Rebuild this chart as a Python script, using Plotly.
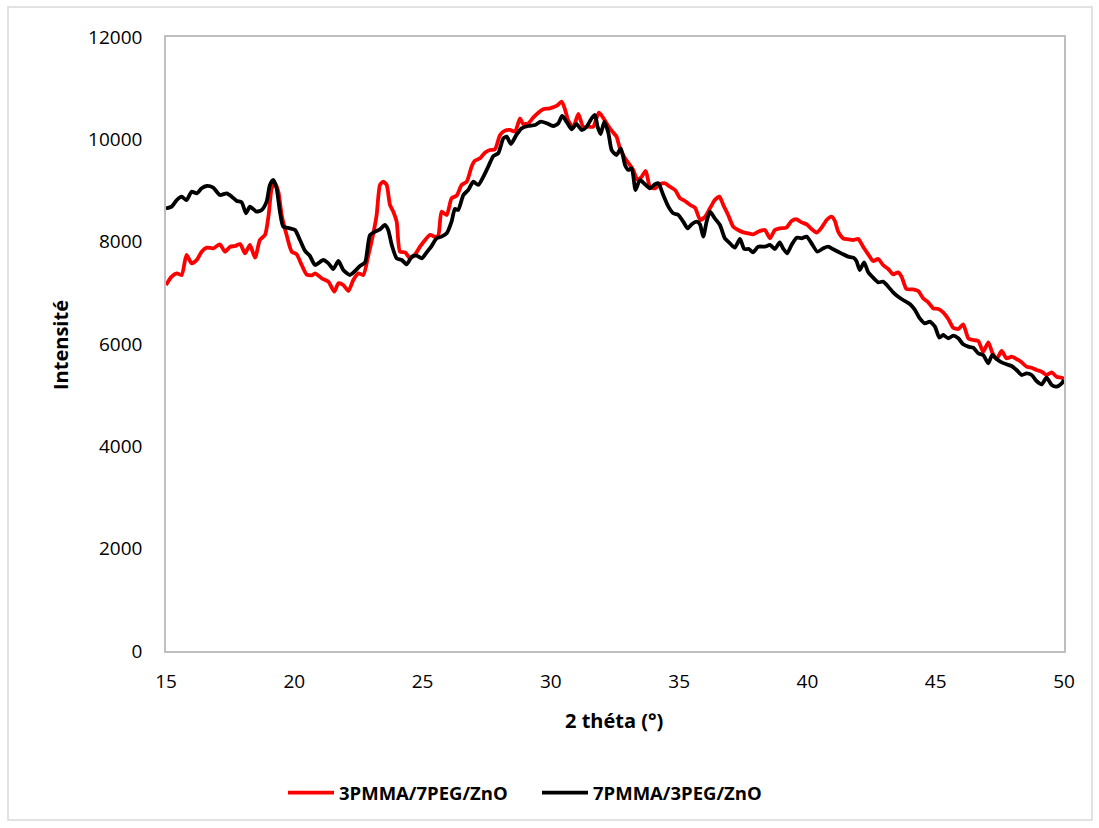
import plotly.graph_objects as go

# ---- data ----
x_red = [15.0, 15.22, 15.42, 15.61, 15.8, 16.0, 16.2, 16.39, 16.59, 16.84, 17.1, 17.3, 17.5, 17.69, 17.89,
         18.08, 18.27, 18.47, 18.66, 18.86, 19.0, 19.12, 19.25, 19.38, 19.51, 19.7, 19.9, 20.09, 20.29, 20.48,
         20.68, 20.81, 21.07, 21.33, 21.56, 21.72, 21.91, 22.11, 22.3, 22.5, 22.69, 22.89, 23.08, 23.21, 23.34,
         23.47, 23.6, 23.73, 23.86, 23.99, 24.12, 24.32, 24.51, 24.71, 24.9, 25.1, 25.29, 25.49, 25.61, 25.74,
         25.94, 26.13, 26.33, 26.52, 26.72, 26.91, 27.04, 27.24, 27.43, 27.63, 27.82, 28.02, 28.21, 28.41, 28.6,
         28.8, 28.92, 29.12, 29.32, 29.51, 29.7, 29.96, 30.22, 30.42, 30.55, 30.68, 30.87, 31.07, 31.26, 31.46,
         31.65, 31.87, 32.04, 32.24, 32.4, 32.56, 32.69, 32.89, 33.08, 33.21, 33.38, 33.54, 33.7, 33.86, 34.06,
         34.25, 34.45, 34.64, 34.84, 35.04, 35.23, 35.43, 35.62, 35.82, 36.01, 36.2, 36.39, 36.57, 36.72, 36.91,
         37.11, 37.3, 37.5, 37.69, 37.88, 38.08, 38.34, 38.54, 38.73, 38.92, 39.18, 39.38, 39.58, 39.77, 39.97,
         40.16, 40.35, 40.55, 40.75, 40.94, 41.07, 41.2, 41.39, 41.59, 41.79, 41.98, 42.17, 42.37, 42.56, 42.76,
         42.95, 43.15, 43.34, 43.54, 43.67, 43.86, 44.12, 44.32, 44.51, 44.71, 44.9, 45.1, 45.29, 45.49, 45.68,
         45.88, 46.07, 46.27, 46.46, 46.66, 46.85, 47.05, 47.2, 47.37, 47.57, 47.76, 47.96, 48.15, 48.35, 48.54,
         48.74, 48.93, 49.13, 49.32, 49.52, 49.71, 49.91, 50.0]
y_red = [7153, 7316, 7381, 7349, 7740, 7577, 7642, 7804, 7883, 7870, 7948, 7804, 7902, 7915, 7954,
         7772, 7935, 7687, 8033, 8131, 8521, 9043, 9141, 8977, 8521, 8131, 7804, 7753, 7544, 7360,
         7340, 7381, 7284, 7218, 7022, 7186, 7153, 7036, 7251, 7381, 7349, 7740, 8163, 8521, 9108,
         9172, 9108, 8717, 8586, 8391, 7804, 7792, 7675, 7753, 7902, 8033, 8131, 8098, 8117, 8586,
         8521, 8847, 8900, 9108, 9172, 9466, 9583, 9629, 9740, 9792, 9805, 10085, 10170, 10183, 10150,
         10410, 10300, 10313, 10430, 10521, 10587, 10606, 10652, 10736, 10587, 10365, 10235, 10495, 10247, 10247,
         10247, 10521, 10420, 10260, 10150, 10052, 9825, 9629, 9499, 9401, 9205, 9270, 9381, 9075, 9043,
         9121, 9141, 9075, 9010, 8847, 8795, 8717, 8664, 8424, 8488, 8652, 8814, 8880, 8717, 8521,
         8293, 8228, 8182, 8163, 8143, 8195, 8228, 8066, 8228, 8261, 8274, 8404, 8437, 8378, 8339,
         8248, 8176, 8274, 8424, 8488, 8404, 8195, 8066, 8046, 8033, 8052, 7902, 7753, 7622, 7661,
         7544, 7466, 7362, 7401, 7316, 7075, 7068, 7036, 6893, 6815, 6698, 6684, 6619, 6489, 6319,
         6293, 6385, 6111, 6078, 6059, 5850, 6033, 5837, 5707, 5863, 5720, 5752, 5707, 5642, 5557,
         5537, 5492, 5459, 5394, 5446, 5361, 5342, 5316]

x_black = [15.0, 15.22, 15.42, 15.61, 15.8, 16.0, 16.2, 16.39, 16.59, 16.84, 17.1, 17.37, 17.56, 17.76, 17.95,
           18.12, 18.27, 18.53, 18.73, 18.92, 19.05, 19.18, 19.31, 19.44, 19.57, 19.83, 20.03, 20.22, 20.42, 20.61,
           20.81, 21.13, 21.33, 21.52, 21.72, 21.91, 22.17, 22.37, 22.56, 22.76, 22.95, 23.15, 23.34, 23.53, 23.66,
           23.8, 23.99, 24.19, 24.38, 24.58, 24.77, 24.97, 25.16, 25.35, 25.55, 25.74, 25.94, 26.13, 26.26, 26.39,
           26.59, 26.78, 26.98, 27.17, 27.37, 27.56, 27.76, 27.95, 28.15, 28.28, 28.44, 28.67, 28.86, 29.12, 29.38,
           29.61, 29.84, 30.09, 30.29, 30.44, 30.61, 30.81, 31.0, 31.2, 31.39, 31.59, 31.72, 31.82, 31.94, 32.08,
           32.24, 32.37, 32.56, 32.73, 32.89, 33.02, 33.15, 33.3, 33.47, 33.67, 33.86, 34.06, 34.19, 34.38, 34.58,
           34.77, 34.97, 35.16, 35.33, 35.49, 35.68, 35.81, 35.94, 36.07, 36.2, 36.39, 36.59, 36.78, 36.98, 37.17,
           37.37, 37.54, 37.72, 37.88, 38.08, 38.34, 38.54, 38.73, 38.92, 39.05, 39.21, 39.38, 39.58, 39.77, 39.97,
           40.16, 40.39, 40.62, 40.81, 41.01, 41.2, 41.39, 41.59, 41.79, 41.91, 42.04, 42.21, 42.37, 42.56, 42.76,
           42.95, 43.15, 43.34, 43.54, 43.73, 44.0, 44.19, 44.38, 44.58, 44.77, 44.97, 45.14, 45.29, 45.49, 45.68,
           45.88, 46.07, 46.27, 46.46, 46.66, 46.85, 47.05, 47.2, 47.37, 47.57, 47.76, 47.96, 48.15, 48.35, 48.54,
           48.74, 48.93, 49.13, 49.32, 49.52, 49.71, 49.91, 50.0]
y_black = [8650, 8684, 8814, 8880, 8814, 8977, 8945, 9043, 9088, 9055, 8912, 8945, 8880, 8795, 8769,
           8554, 8684, 8586, 8619, 8782, 9108, 9205, 9043, 8586, 8293, 8261, 8228, 8033, 7820, 7720,
           7544, 7642, 7577, 7466, 7622, 7446, 7349, 7427, 7524, 7596, 8131, 8195, 8241, 8326, 8228,
           7935, 7675, 7642, 7557, 7707, 7726, 7675, 7792, 7915, 8066, 8098, 8163, 8391, 8640, 8620,
           8912, 9010, 9172, 9108, 9270, 9466, 9674, 9727, 10020, 10052, 9909, 10098, 10215, 10261, 10280,
           10345, 10313, 10261, 10313, 10456, 10345, 10195, 10300, 10183, 10247, 10410, 10476, 10247, 10104, 10340,
           10130, 9790, 9694, 9825, 9499, 9401, 9434, 9010, 9205, 9121, 9043, 9121, 9141, 8912, 8684,
           8554, 8521, 8391, 8261, 8339, 8391, 8339, 8098, 8391, 8586, 8456, 8326, 8066, 7968, 7883,
           8052, 7857, 7857, 7792, 7902, 7902, 7935, 7857, 7987, 7870, 7772, 7935, 8078, 8066, 8098,
           7968, 7804, 7870, 7902, 7851, 7804, 7753, 7707, 7687, 7622, 7446, 7596, 7401, 7296, 7205,
           7218, 7120, 7010, 6924, 6860, 6776, 6665, 6502, 6404, 6436, 6339, 6124, 6176, 6111, 6163,
           6111, 5994, 5948, 5928, 5818, 5785, 5623, 5785, 5707, 5642, 5603, 5570, 5492, 5394, 5427,
           5394, 5277, 5212, 5342, 5199, 5166, 5232, 5296]

name_red = "3PMMA/7PEG/ZnO"
name_black = "7PMMA/3PEG/ZnO"
x_ticks = [15, 20, 25, 30, 35, 40, 45, 50]
y_ticks = [0, 2000, 4000, 6000, 8000, 10000, 12000]

FONT = "Open Sans"

fig = go.Figure()
fig.add_trace(go.Scatter(x=x_red, y=y_red, mode="lines", name=name_red,
                         line=dict(color="#FF0000", width=3.8, shape="spline", smoothing=0.6)))
fig.add_trace(go.Scatter(x=x_black, y=y_black, mode="lines", name=name_black,
                         line=dict(color="#000000", width=3.8, shape="spline", smoothing=0.6)))

L, R, T, B = 166, 35, 37, 177
W, H = 1099, 828
pw, ph = W - L - R, H - T - B

def px(xp):
    return (xp - L) / pw

def py(yp):
    return (H - B - yp) / ph

fig.update_layout(
    width=W, height=H,
    margin=dict(l=L, r=R, t=T, b=B, autoexpand=False),
    paper_bgcolor="white", plot_bgcolor="white",
    font=dict(family=FONT, color="#000000", size=19),
    showlegend=True,
    legend=dict(orientation="h", x=px(283), xanchor="left", y=py(793), yanchor="middle",
                font=dict(family=FONT, size=18.5, color="#000000", weight="bold"),
                itemwidth=46, entrywidth=193, entrywidthmode="pixels",
                traceorder="normal", bgcolor="rgba(0,0,0,0)"),
    xaxis=dict(range=[15, 50], tickvals=x_ticks, ticktext=[str(v) for v in x_ticks],
               showgrid=False, zeroline=False, showline=True, mirror=True,
               linecolor="#BFBFBF", linewidth=1.5, ticks="", ticklabelstandoff=12,
               tickfont=dict(family=FONT, size=19, color="#000000")),
    yaxis=dict(range=[0, 12000], tickvals=y_ticks, ticktext=[str(v) for v in y_ticks],
               showgrid=False, zeroline=False, showline=True, mirror=True,
               linecolor="#BFBFBF", linewidth=1.5, ticks="", ticklabelstandoff=18,
               tickfont=dict(family=FONT, size=19, color="#000000")),
    annotations=[
        dict(text="<b>2 théta (°)</b>", xref="paper", yref="paper", x=px(614), y=py(720),
             xanchor="center", yanchor="middle", showarrow=False,
             font=dict(family=FONT, size=20, color="#000000")),
        dict(text="<b>Intensité</b>", xref="paper", yref="paper", x=px(60), y=py(345),
             xanchor="center", yanchor="middle", showarrow=False, textangle=-90,
             font=dict(family=FONT, size=20, color="#000000")),
    ],
    shapes=[
        dict(type="rect", xref="paper", yref="paper", x0=px(8), x1=px(1092), y0=py(820), y1=py(7),
             line=dict(color="#D9D9D9", width=1.5), fillcolor="rgba(0,0,0,0)", layer="below"),
    ],
)

fig.write_html("out.html")
